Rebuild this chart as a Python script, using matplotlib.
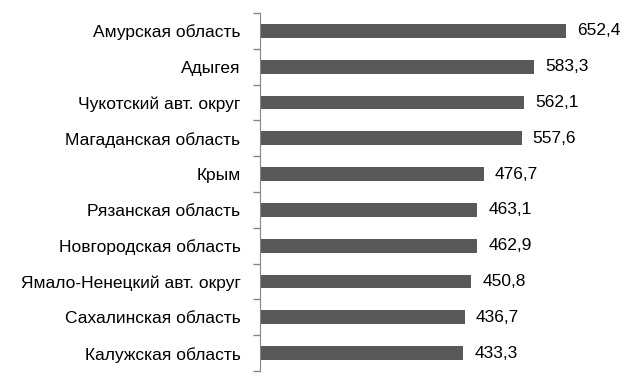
import matplotlib.pyplot as plt

plt.rcParams['font.family'] = ['Liberation Sans', 'DejaVu Sans']

regions = ["Амурская область", "Адыгея", "Чукотский авт. округ", "Магаданская область",
           "Крым", "Рязанская область", "Новгородская область",
           "Ямало-Ненецкий авт. округ", "Сахалинская область", "Калужская область"]
values = [652.4, 583.3, 562.1, 557.6, 476.7, 463.1, 462.9, 450.8, 436.7, 433.3]

fig = plt.figure(figsize=(6.38, 3.80), dpi=100)
ax = fig.add_axes([260 / 638, 9 / 380, 378 / 638, 358 / 380])

ypos = list(range(len(regions)))[::-1]
ax.barh(ypos, values, height=0.39, color='#595959')

for y, v in zip(ypos, values):
    ax.text(v + 24, y, f"{v:.1f}".replace('.', ','), va='center', ha='left', fontsize=12.5)

ax.set_xlim(0, 806)
ax.set_ylim(-0.5, len(regions) - 0.5)
ax.set_yticks(ypos)
ax.set_yticklabels(regions, fontsize=12.5)
ax.set_yticks([i + 0.5 for i in range(-1, len(regions))], minor=True)
ax.tick_params(axis='y', which='major', length=0, pad=14)
ax.tick_params(axis='y', which='minor', length=5, color='#868686', width=1)
ax.set_xticks([])
for s in ['top', 'right', 'bottom']:
    ax.spines[s].set_visible(False)
ax.spines['left'].set_color('#868686')

fig.savefig("out.png", dpi=100)
